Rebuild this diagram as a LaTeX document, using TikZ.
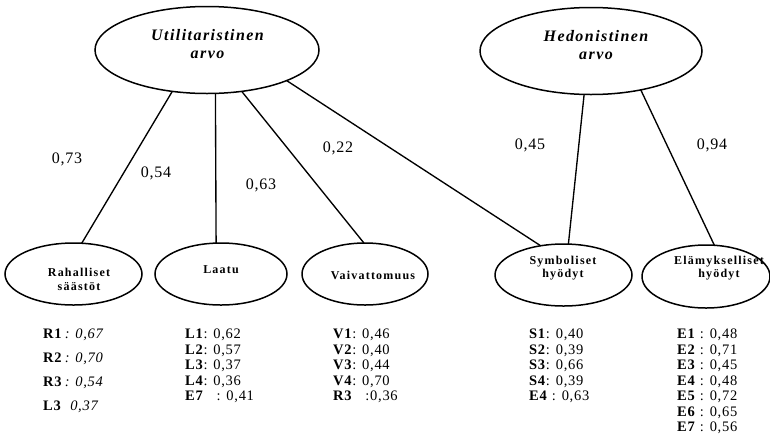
\documentclass[tikz,border=0pt]{standalone}
\usepackage{fontspec}
\setmainfont{Liberation Serif}
\newfontfamily\titlefont[LetterSpace=9]{Liberation Serif}
\newfontfamily\boxfont[LetterSpace=10]{Liberation Serif}
\newfontfamily\numfont[LetterSpace=5]{Liberation Serif}
\usetikzlibrary{shapes.geometric}
\begin{document}
\begin{tikzpicture}[x=1pt,y=-1pt,
  topell/.style={draw, ellipse, line width=1.5pt, minimum height=87pt, inner sep=0pt, outer sep=0pt},
  botell/.style={draw, ellipse, line width=1.5pt, minimum height=62pt, inner sep=0pt, outer sep=0pt},
  conn/.style={line width=1.35pt},
  toptext/.style={font=\titlefont\bfseries\itshape\fontsize{16}{18}\selectfont, align=center, inner sep=0pt},
  boxtext/.style={font=\boxfont\bfseries\fontsize{12}{14}\selectfont, align=center, inner sep=0pt},
  wlabel/.style={font=\numfont\fontsize{16}{18}\selectfont, inner sep=0pt},
  listtext/.style={font=\numfont\fontsize{14.5}{15.5}\selectfont, align=left, anchor=north west, inner sep=0pt}]
\useasboundingbox (0,0) rectangle (770,440);
% top ellipses
\node[topell, minimum width=224pt] (u) at (207,50) {};
\node[topell, minimum width=222pt] (h) at (591,51) {};
\node[toptext] (ut) at (207.5,44) {Utilitaristinen\\arvo};
\node[toptext] (ht) at (596,45) {Hedonistinen\\arvo};
% bottom ellipses
\node[botell, minimum width=137pt] (r) at (73.5,274) {};
\node[botell, minimum width=132pt] (l) at (221,274) {};
\node[botell, minimum width=126pt] (v) at (365,274) {};
\node[botell, minimum width=137pt] (s) at (563.5,275) {};
\node[botell, minimum width=128pt, minimum height=63pt] (e) at (706,276.5) {};
\node[boxtext] (rt) at (79,279) {Rahalliset\\säästöt};
\node[boxtext] (lt) at (221,270) {Laatu};
\node[boxtext] (vt) at (373,275) {Vaivattomuus};
\node[boxtext, font=\boxfont\bfseries\fontsize{12}{13}\selectfont] (st) at (563,268.5) {Symboliset\\hyödyt};
\node[boxtext, font=\boxfont\bfseries\fontsize{12}{13}\selectfont] (et) at (719,268.5) {Elämykselliset\\hyödyt};
% connectors
\draw[conn] (u.230) -- (r.75);
\draw[conn] (u.281) -- (l.99);
\draw[conn] (u.310) -- (v.92);
\draw[conn] (u.339.3) -- (s.128);
\draw[conn] (h.261) -- (s.81.5);
\draw[conn] (h.322) -- (e.75);
% weights
\node[wlabel] (w1) at (67,159) {0,73};
\node[wlabel] (w2) at (156,173) {0,54};
\node[wlabel] (w3) at (261,185) {0,63};
\node[wlabel] (w4) at (338,148) {0,22};
\node[wlabel] (w5) at (530,145) {0,45};
\node[wlabel] (w6) at (712,145) {0,94};
% lists
\node[listtext] (rl) at (43,329) {\textbf{R1}\textit{\,: 0,67}\\[8.5pt]\textbf{R2}\textit{\,: 0,70}\\[8.5pt]\textbf{R3}\textit{\,: 0,54}\\[8.5pt]\textbf{L3}\ \ \textit{0,37}};
\node[listtext] (ll) at (185,329) {\textbf{L1}: 0,62\\\textbf{L2}: 0,57\\\textbf{L3}: 0,37\\\textbf{L4}: 0,36\\\textbf{E7}\ \ \ : 0,41};
\node[listtext] (vl) at (333,329) {\textbf{V1}: 0,46\\\textbf{V2}: 0,40\\\textbf{V3}: 0,44\\\textbf{V4}: 0,70\\\textbf{R3}\ \ \ :0,36};
\node[listtext] (sl) at (529,329) {\textbf{S1}: 0,40\\\textbf{S2}: 0,39\\\textbf{S3}: 0,66\\\textbf{S4}: 0,39\\\textbf{E4} : 0,63};
\node[listtext] (el) at (677,329) {\textbf{E1} : 0,48\\\textbf{E2} : 0,71\\\textbf{E3} : 0,45\\\textbf{E4} : 0,48\\\textbf{E5} : 0,72\\\textbf{E6} : 0,65\\\textbf{E7} : 0,56};
\end{tikzpicture}
\end{document}
